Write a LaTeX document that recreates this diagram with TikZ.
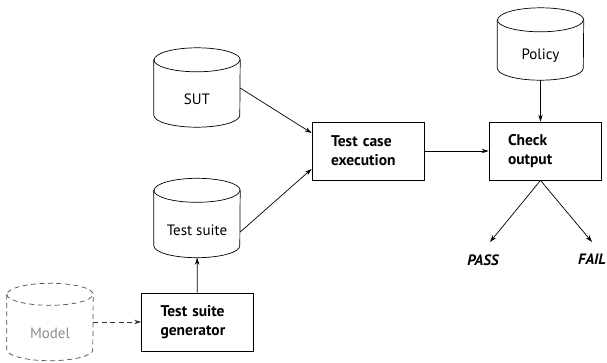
\documentclass[tikz,border=0pt]{standalone}
\usepackage{fontspec}
\setmainfont{PT Sans}
\usetikzlibrary{arrows.meta}
\tikzset{
  box/.style={draw, line width=0.8pt, minimum width=112pt, minimum height=58pt,
    inner xsep=19pt, text width=74pt, align=left,
    font=\bfseries\fontsize{15.5}{19}\selectfont},
  cylbody/.style={minimum width=86pt, minimum height=55pt, inner sep=0pt,
    font=\fontsize{15}{17}\selectfont},
  cylline/.style={line width=0.7pt},
  arr/.style={line width=0.7pt, -{Stealth[length=7pt,width=4.5pt]}},
  outcome/.style={font=\bfseries\itshape\fontsize{15}{17}\selectfont},
  ghost/.style={dash pattern=on 5pt off 3.5pt, draw=black!70},
}
\newcommand\drawcyl[3][]{%
  \draw[cylline,#1] ([yshift=#3]#2.north west) -- ([yshift=#3]#2.south west)
    arc[start angle=180,end angle=360,x radius=43pt,y radius=#3]
    -- ([yshift=#3]#2.north east)
    arc[start angle=0,end angle=180,x radius=43pt,y radius=#3] -- cycle;
  \draw[cylline,#1] ([yshift=#3]#2.north west)
    arc[start angle=180,end angle=360,x radius=43pt,y radius=#3];
}
\begin{document}
\begin{tikzpicture}[x=1pt,y=-1pt]
\useasboundingbox (0,0) rectangle (607,362);
% cylinders
\node[cylbody] (sut) at (197,99.5) {SUT};
\node[cylbody] (ts) at (197,230) {Test suite};
\node[cylbody, text=black!45] (model) at (50,333) {Model};
\node[cylbody, minimum height=48pt] (policy) at (540.5,56) {Policy};
\drawcyl{sut}{12pt}
\drawcyl{ts}{12pt}
\drawcyl[ghost]{model}{11pt}
\drawcyl{policy}{12pt}
% boxes
\node[box] (exec) at (368,151) {Test case\\execution};
\node[box] (check) at (545,151) {Check\\output};
\node[box, minimum width=111pt] (gen) at (197.5,322) {Test suite\\generator};
% outcomes
\node[outcome] (pass) at (483,260) {PASS};
\node[outcome] (fail) at (592,259) {FAIL};
\coordinate (apex) at (policy.south |- check.south);
\coordinate (passtip) at (490,242);
\coordinate (failtip) at (592,242);
% connectors
\draw[arr] ([yshift=11.5pt]sut.east) -- ([yshift=18pt]exec.west);
\draw[arr] ([yshift=-2pt]ts.east) -- ([yshift=-18pt]exec.west);
\draw[arr] (exec) -- (check);
\draw[arr] (policy.south) -- (policy.south |- check.north);
\draw[arr] (gen) -- (ts);
\draw[arr, dash pattern=on 5pt off 3.5pt, draw=black!80] (model.east |- gen.west) -- (gen.west);
\draw[arr] (apex) -- (passtip);
\draw[arr] (apex) -- (failtip);
\end{tikzpicture}
\end{document}
